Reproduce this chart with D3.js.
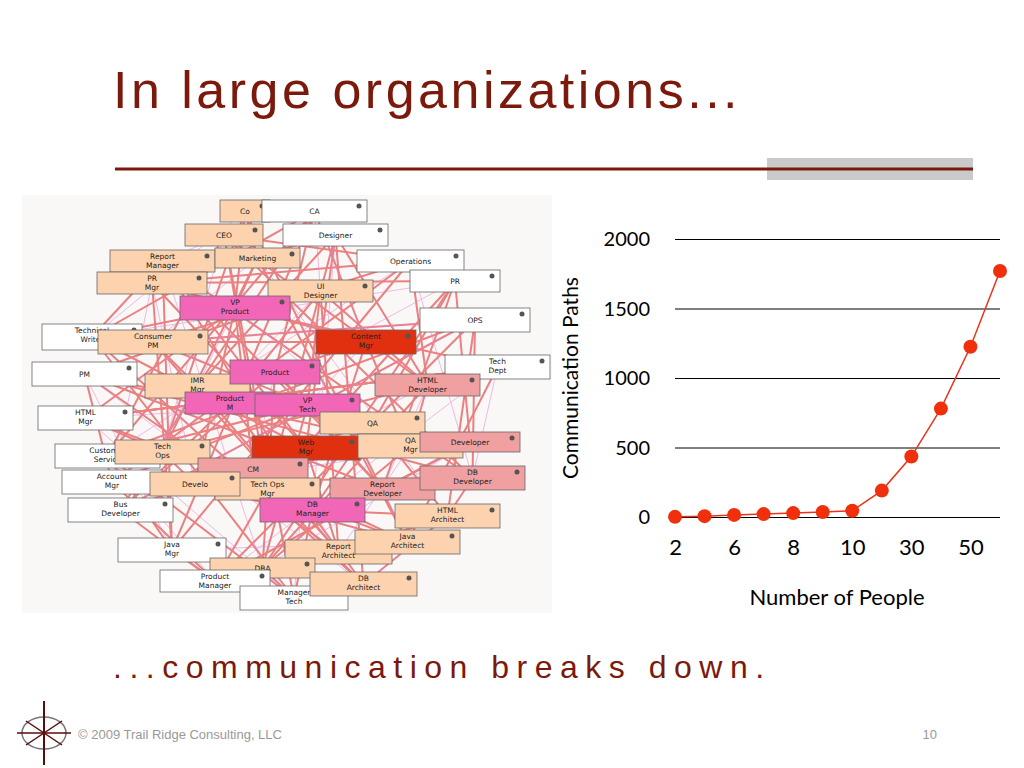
<!DOCTYPE html>
<html><head><meta charset="utf-8">
<script src="https://cdn.jsdelivr.net/npm/d3@7"></script>
<style>body{margin:0;background:#fff}svg{display:block}</style>
</head><body>
<svg id="s" width="1024" height="768"></svg>
<script>
// Chart data
const people = ["2","4","6","7","8","9","10","20","30","40","50","60"];
const paths  = [1, 6, 15, 21, 28, 36, 45, 190, 435, 780, 1225, 1770];
const shownTicks = ["2","6","8","10","30","50"];
const yTicks = [0, 500, 1000, 1500, 2000];

// Org-chart picture labels (decorative image)
const boxLabels = ["Co","CA","CEO","Designer","Report Manager","Marketing","Operations","PR Mgr","UI Designer","PR","VP Product","OPS","Technical Writer","Consumer PM","Content Mgr","Tech Dept","PM","IMR Mgr","Product","HTML Developer","HTML Mgr","Product M","VP Tech","QA","Customer Service","Tech Ops","Web Mgr","QA Mgr","Developer","Account Mgr","CM","Tech Ops Mgr","Report Developer","DB Developer","Bus Developer","Develo","DB Manager","HTML Architect","Java Mgr","Report Architect","Java Architect","DBA","Product Manager","Manager Tech","DB Architect"];
const boxBoxes = [[220,200,50,22,"#fcd3ae"],[262,200,105,22,"#fff"],[185,224,78,22,"#fcd3ae"],[283,224,105,22,"#fff"],[110,250,105,22,"#fcd3ae"],[215,248,85,20,"#fcd3ae"],[357,250,107,22,"#fff"],[97,272,110,22,"#fcd3ae"],[268,280,105,22,"#fcd3ae"],[410,270,90,22,"#fff"],[180,296,110,24,"#f266b8"],[420,308,110,24,"#fff"],[42,324,100,26,"#fff"],[98,330,110,24,"#fcd3ae"],[316,330,100,24,"#e03010"],[445,355,105,24,"#fff"],[32,362,105,24,"#fff"],[145,374,105,24,"#fcd3ae"],[230,360,90,24,"#f266b8"],[375,374,105,22,"#f0a0a0"],[38,406,95,24,"#fff"],[185,392,90,22,"#f266b8"],[255,394,105,22,"#f266b8"],[320,412,105,22,"#fcd3ae"],[55,444,105,24,"#fff"],[115,440,95,24,"#fcd3ae"],[252,436,108,24,"#e03010"],[358,434,105,24,"#fcd3ae"],[420,432,100,20,"#f0a0a0"],[62,470,100,24,"#fff"],[198,458,110,22,"#f0a0a0"],[215,478,105,22,"#fcd3ae"],[330,478,105,22,"#f0a0a0"],[420,466,105,24,"#f0a0a0"],[68,498,105,24,"#fff"],[150,472,90,24,"#fcd3ae"],[260,498,105,24,"#f266b8"],[395,504,105,24,"#fcd3ae"],[118,538,108,24,"#fff"],[285,540,107,24,"#fcd3ae"],[355,530,105,24,"#fcd3ae"],[210,558,105,20,"#fcd3ae"],[160,570,110,22,"#fff"],[240,586,108,24,"#fff"],[310,572,107,24,"#fcd3ae"]];

const svg = d3.select("#s");
// Title
svg.append("text").attr("x",113).attr("y",108).attr("font-family","Liberation Sans, Arial").attr("font-size",52).attr("letter-spacing",3.5).attr("fill","#7b1a0c").text("In large organizations...");
svg.append("rect").attr("x",767).attr("y",158).attr("width",206).attr("height",22).attr("fill","#bdbdbd").attr("opacity",0.8);
svg.append("line").attr("x1",115).attr("x2",973).attr("y1",169).attr("y2",169).attr("stroke","#7b1a0c").attr("stroke-width",3);

// Decorative network picture
const pic = svg.append("g");
pic.append("rect").attr("x",22).attr("y",195).attr("width",530).attr("height",418).attr("fill","#faf7f7");
const centers = boxBoxes.map(b=>[b[0]+b[2]/2,b[1]+b[3]/2]);
const lines = pic.append("g").attr("stroke","#e02020").attr("stroke-width",2).attr("opacity",0.55);
centers.forEach((c,i)=>{
  [7,13,19].forEach(k=>{const d=centers[(i*k+5)%centers.length];
    lines.append("line").attr("x1",c[0]).attr("y1",c[1]).attr("x2",d[0]).attr("y2",d[1]);});
});
const pl = pic.append("g").attr("stroke","#e080d0").attr("stroke-width",1).attr("opacity",0.5);
centers.forEach((c,i)=>{const d=centers[(i*11+3)%centers.length];
  pl.append("line").attr("x1",c[0]).attr("y1",c[1]).attr("x2",d[0]).attr("y2",d[1]);});
boxBoxes.forEach((b,i)=>{
  const g=pic.append("g");
  g.append("rect").attr("x",b[0]).attr("y",b[1]).attr("width",b[2]).attr("height",b[3]).attr("fill",b[4]).attr("stroke","#666").attr("stroke-width",0.8);
  const words=boxLabels[i].split(" ");
  const lines2 = words.length>1 && b[3]>=22 ? [words.slice(0,Math.ceil(words.length/2)).join(" "),words.slice(Math.ceil(words.length/2)).join(" ")] : [boxLabels[i]];
  lines2.forEach((t,j)=>g.append("text").attr("x",b[0]+b[2]/2).attr("y",b[1]+(lines2.length>1?9+j*9:b[3]/2+3)).attr("text-anchor","middle").attr("font-family","DejaVu Sans").attr("font-size",7.5).attr("fill","#222").text(t));
  g.append("circle").attr("cx",b[0]+b[2]-8).attr("cy",b[1]+6).attr("r",2.5).attr("fill","#555");
});

// Chart
const x = d3.scalePoint().domain(people).range([675,1000]);
const y = d3.scaleLinear().domain([0,2000]).range([517,239]);
const ch = svg.append("g");
ch.append("g").attr("transform","translate(675,0)")
  .call(d3.axisRight(y).tickValues(yTicks).tickSize(325).tickFormat(""))
  .call(g=>g.select(".domain").remove())
  .call(g=>g.selectAll("line").attr("stroke","#000").attr("stroke-width",1));
yTicks.forEach(v=>ch.append("text").attr("x",650).attr("y",y(v)+7).attr("text-anchor","end").attr("font-family","Lato, Open Sans").attr("font-size",20).text(v));
ch.append("g").attr("transform","translate(0,517)")
  .call(d3.axisBottom(x).tickValues(shownTicks).tickSize(0).tickPadding(22))
  .call(g=>g.select(".domain").remove())
  .call(g=>g.selectAll("text").attr("font-family","Lato, Open Sans").attr("font-size",22).attr("fill","#000"));
ch.append("path").datum(paths).attr("fill","none").attr("stroke","#e8341c").attr("stroke-width",1.5)
  .attr("d",d3.line().x((d,i)=>x(people[i])).y(d=>y(d)));
ch.selectAll("circle.p").data(paths).join("circle").attr("class","p")
  .attr("cx",(d,i)=>x(people[i])).attr("cy",d=>y(d)).attr("r",7).attr("fill","#f0300c");
ch.append("text").attr("transform","translate(578,378) rotate(-90)").attr("text-anchor","middle").attr("font-family","Lato, Open Sans").attr("font-size",21).text("Communication Paths");
ch.append("text").attr("x",837).attr("y",605).attr("text-anchor","middle").attr("font-family","Lato, Open Sans").attr("font-size",22).text("Number of People");

// Subtitle & footer
svg.append("text").attr("x",113).attr("y",678).attr("font-family","Liberation Sans, Arial").attr("font-size",32).attr("letter-spacing",7.5).attr("fill","#7b1a0c").text("...communication breaks down.");
const cg=svg.append("g").attr("transform","translate(44,733)");
cg.append("ellipse").attr("rx",22).attr("ry",16).attr("fill","none").attr("stroke","#777").attr("stroke-width",1.5);
cg.append("line").attr("x1",0).attr("x2",0).attr("y1",-32).attr("y2",32).attr("stroke","#5a0c0c").attr("stroke-width",2);
cg.append("line").attr("x1",-27).attr("x2",27).attr("y1",0).attr("y2",0).attr("stroke","#5a0c0c").attr("stroke-width",1.5);
cg.append("line").attr("x1",-18).attr("x2",18).attr("y1",-12).attr("y2",12).attr("stroke","#5a0c0c").attr("stroke-width",1.5);
cg.append("line").attr("x1",-18).attr("x2",18).attr("y1",12).attr("y2",-12).attr("stroke","#5a0c0c").attr("stroke-width",1.5);
svg.append("text").attr("x",78).attr("y",739).attr("font-family","Liberation Sans, Arial").attr("font-size",13).attr("fill","#999").text("© 2009 Trail Ridge Consulting, LLC");
svg.append("text").attr("x",937).attr("y",739).attr("text-anchor","end").attr("font-family","Liberation Sans, Arial").attr("font-size",13).attr("fill","#999").text("10");
</script>
</body></html>
